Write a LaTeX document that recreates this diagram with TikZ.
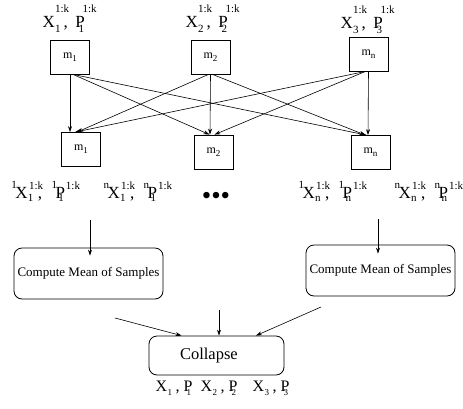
\documentclass[tikz,border=0pt]{standalone}
\usepackage{fontspec}
\setmainfont{Liberation Serif}
\usetikzlibrary{arrows.meta}
\newcommand\pc[4]{\rlap{\hspace{#1pt}\raisebox{#2pt}{\fontsize{#3}{#3}\selectfont #4}}}
\newcommand\toplab[1]{\pc{0}{0}{17}{X}\pc{12.5}{-5}{11}{#1}\pc{12.5}{15}{11}{1:k}\pc{21}{0}{17}{,}\pc{33}{0}{17}{P}\pc{36}{-5}{11}{#1}\pc{40}{15}{11}{1:k}\hspace{52pt}}
\newcommand\midlab[2]{\pc{-4}{9.5}{11}{#2}\pc{0}{0}{17}{X}\pc{12.5}{-3}{11}{#1}\pc{13.5}{8.5}{11}{1:k}\pc{22.5}{0}{17}{,}\pc{36}{9.5}{11}{#2}\pc{40}{0}{17}{P}\pc{43}{-3}{11}{#1}\pc{50.5}{8.5}{11}{1:k}\hspace{64pt}}
\newcommand\botlab[1]{\pc{0}{0}{16}{X}\pc{12}{-4}{9}{#1}\pc{20}{0}{16}{,}\pc{28}{0}{16}{P}\pc{31}{-4}{9}{#1}\hspace{38pt}}
\newcommand\mlab[1]{m\raisebox{-3pt}{\fontsize{9}{9}\selectfont #1}}
\tikzset{
  mbox/.style={draw, line width=0.8pt, minimum width=39pt, minimum height=34pt, inner sep=0pt, font=\fontsize{12}{12}\selectfont},
  rbox/.style={draw, line width=0.8pt, rounded corners=8pt, inner sep=0pt},
  lab/.style={anchor=base west, inner sep=0pt, outer sep=0pt},
  arr/.style={line width=0.6pt, -{Stealth[length=6pt,width=4pt]}}
}
\begin{document}
\begin{tikzpicture}[x=1pt,y=-1pt]
\useasboundingbox (0,0) rectangle (463,408);
% top labels
\node[lab] (lt1) at (42,27) {\toplab{1}};
\node[lab] (lt2) at (185,27) {\toplab{2}};
\node[lab] (lt3) at (340,28.5) {\toplab{3}};
% top boxes
\node[mbox] (t1) at (70,57) {\mlab{1}};
\node[mbox] (t2) at (210.5,57) {\mlab{2}};
\node[mbox] (tn) at (368.5,54) {\mlab{n}};
% bottom boxes
\node[mbox] (b1) at (81,149.5) {\mlab{1}};
\node[mbox] (b2) at (213.5,152) {\mlab{2}};
\node[mbox] (bn) at (370.5,152.5) {\mlab{n}};
% arrows
\draw[arr] (t1.south) -- ([xshift=-11pt]b1.north);
\draw[arr] ([xshift=3pt]t1.south) -- ([xshift=-4pt]b2.north);
\draw[arr] ([xshift=3pt]t1.south) -- ([xshift=-4pt]bn.north);
\draw[arr] ([xshift=-2pt]t2.south) -- ([xshift=-4pt]b1.north);
\draw[arr] (t2.south) -- ([xshift=-3.5pt]b2.north);
\draw[arr] ([xshift=2pt]t2.south) -- ([xshift=-5pt]bn.north);
\draw[arr] ([xshift=-3pt]tn.south) -- ([xshift=-6pt]b1.north);
\draw[arr] ([xshift=-3pt]tn.south) -- ([xshift=1pt]b2.north);
\draw[arr] (tn.south) -- ([xshift=-2.5pt]bn.north);
% middle labels
\node[lab] (ml1) at (15,198) {\midlab{1}{1}};
\node[lab] (ml2) at (107,198) {\midlab{1}{n}};
\node (dots) at (216,198) {\fontsize{27}{27}\selectfont •••};
\node[lab] (ml3) at (302,198) {\midlab{n}{1}};
\node[lab] (ml4) at (398,198) {\midlab{n}{n}};
% compute boxes
\node[rbox, minimum width=149pt, minimum height=51pt, font=\fontsize{13}{13}\selectfont] (cl) at (88.5,273.5) {Compute Mean of Samples};
\node[rbox, minimum width=149pt, minimum height=51pt, font=\fontsize{13}{13}\selectfont] (cr) at (380.5,270.5) {Compute Mean of Samples};
\coordinate (al) at (90,220);
\coordinate (ar) at (378,219);
\draw[arr] (al) -- ([yshift=-8pt]cl.north -| al);
\draw[arr] (ar) -- ([yshift=-9pt]cr.north -| ar);
% collapse
\node[rbox, minimum width=135pt, minimum height=39pt, font=\fontsize{16.5}{16.5}\selectfont] (col) at (216.5,355.5) {\makebox[73pt][l]{Collapse}};
\coordinate (c1) at (115,318);
\coordinate (c2) at (219,310);
\coordinate (c3) at (321,307);
\draw[arr] (c1) -- ([xshift=-35pt]col.north);
\draw[arr] (c2) -- ([xshift=2.5pt]col.north);
\draw[arr] (c3) -- ([xshift=39.5pt]col.north);
% bottom labels
\node[lab] (bl1) at (155,391) {\botlab{1}};
\node[lab] (bl2) at (200,391) {\botlab{2}};
\node[lab] (bl3) at (252,391) {\botlab{3}};
\end{tikzpicture}
\end{document}
